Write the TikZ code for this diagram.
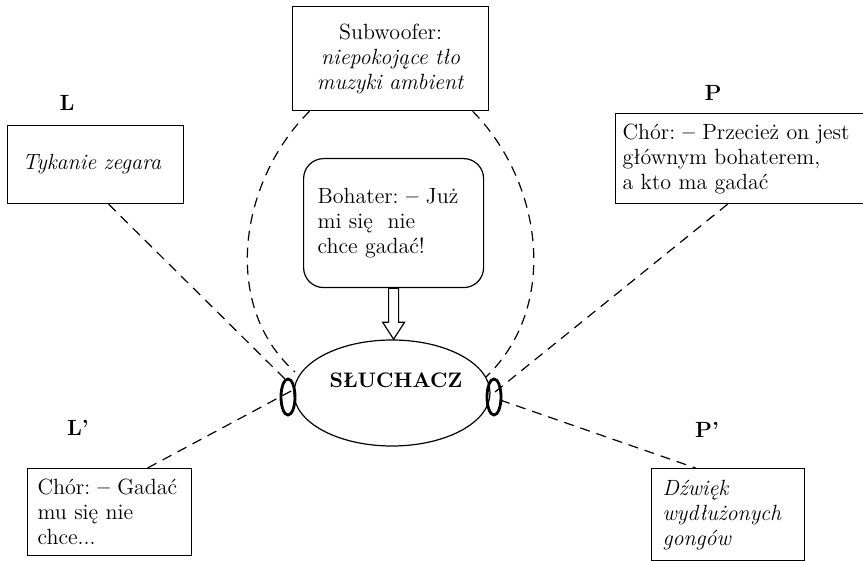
\documentclass[tikz,border=0pt]{standalone}
\usepackage{fontspec}
\usetikzlibrary{shapes.geometric,calc}
\newcommand{\thickdash}{\textbf{–}}
\begin{document}
\begin{tikzpicture}[x=0.5pt,y=-0.5pt,
  every node/.style={font=\fontsize{11}{12.5}\selectfont},
  box/.style={draw, line width=0.6pt, rectangle, anchor=north west, align=left, inner ysep=0pt},
  dashline/.style={dash pattern=on 5pt off 3.5pt, line width=0.6pt},
  ear/.style={draw, ellipse, line width=1.4pt, minimum width=7pt, minimum height=18pt, inner sep=0pt},
  lab/.style={font=\fontsize{11}{12.5}\selectfont\bfseries}]
\useasboundingbox (0,0) rectangle (863,561);
\clip (0,0) rectangle (863,561);

% boxes
\node[box, text width=73pt, inner xsep=7.5pt, minimum height=39pt,
      font=\fontsize{11}{12.5}\selectfont\itshape] (L) at (7,125) {Tykanie zegara};
\node[box, align=center, text width=90pt, inner xsep=4pt, minimum height=52pt] (W) at (292,6)
  {Subwoofer:\\\textit{niepokojące tło}\\\textit{muzyki ambient}};
\node[box, text width=121pt, inner xsep=3.5pt, minimum height=45pt] (P) at (615,113)
  {Chór:~\thickdash~Przecież on jest\\głównym bohaterem,\\a kto ma gadać};
\node[box, text width=72pt, inner xsep=5pt, minimum height=43.5pt] (Lp) at (27,468)
  {Chór:~\thickdash~Gadać\\mu się nie\\chce...};
\node[box, text width=65.5pt, inner xsep=5.5pt, minimum height=46pt,
      font=\fontsize{11}{12.5}\selectfont\itshape] (Pp) at (651,468)
  {Dźwięk\\wydłużonych\\gongów};
\node[draw, rounded corners=10pt, line width=0.6pt, anchor=north west, text width=76pt,
      inner xsep=7pt, minimum height=64.5pt, align=left] (B) at (303,158)
  {Bohater:~\thickdash~Już\\mi się~ nie\\chce gadać!};

% listener
\node[draw, ellipse, line width=0.6pt, minimum width=98pt, minimum height=53pt, inner sep=0pt] (S) at (392,393) {};
\node[font=\fontsize{10.5}{12}\selectfont\bfseries] (St) at (396,380) {SŁUCHACZ};
\node[ear] (EL) at (288,397) {};
\node[ear] (ER) at (494,397) {};

% labels
\node[lab] (LL) at (67,103) {L};
\node[lab] (PL) at (713,93) {P};
\node[lab] (LpL) at (78,428) {L’};
\node[lab] (PpL) at (707,430) {P’};

% coordinates
\coordinate (cL) at (286,380);
\coordinate (cLp) at (293,390);
\coordinate (cP) at (495,392);
\coordinate (cPp) at (500,400);
\coordinate (cAL) at (295,372);
\coordinate (cAR) at (486,377);

% double arrow
\draw[line width=0.6pt, fill=white] ($(B.south)+(-5,0)$) -- ++(0,34) -- ++(-6,0) -- ++(11,17)
  -- ++(11,-17) -- ++(-6,0) -- ++(0,-34) -- cycle;

% dashed connectors
\draw[dashline] ([xshift=6.5pt]L.south) -- (cL);
\draw[dashline] ([xshift=19pt]Lp.north) -- (cLp);
\draw[dashline] ([xshift=-8pt]P.south) -- (cP);
\draw[dashline] (cPp) -- ([xshift=-16.25pt]Pp.north);
\draw[dashline] ([xshift=-40.5pt]W.south) .. controls (240,180) and (220,305) .. (cAL);
\draw[dashline] ([xshift=41pt]W.south) .. controls (541,180) and (561,305) .. (cAR);
\end{tikzpicture}
\end{document}
